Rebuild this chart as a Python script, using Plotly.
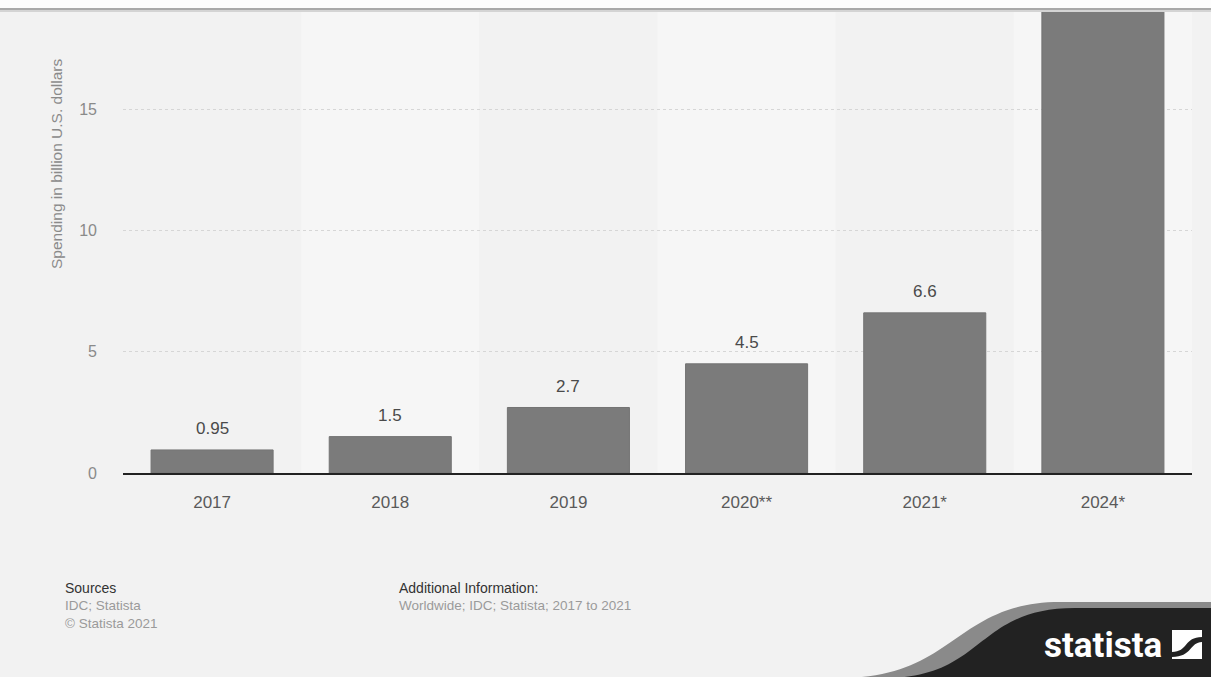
import plotly.graph_objects as go

# Data
years = ["2017", "2018", "2019", "2020**", "2021*", "2024*"]
spending = [0.95, 1.5, 2.7, 4.5, 6.6, 20.0]
value_labels = ["0.95", "1.5", "2.7", "4.5", "6.6", ""]
y_ticks = [0, 5, 10, 15]

W_PX, H_PX = 1211, 677
L, R, T, B = 123, 1192, 12, 473  # plot area in pixels


def px(x):
    return (x - L) / (R - L)


def py(y):
    return (B - y) / (B - T)


FONT = "Liberation Sans, Arial, sans-serif"

fig = go.Figure()
fig.add_trace(go.Bar(
    x=list(range(len(years))),
    y=spending,
    marker=dict(color="#7b7b7b", line=dict(color="#747474", width=1)),
    width=0.685,
    cliponaxis=True,
    hoverinfo="y",
))

annotations = []
for i, (v, lab) in enumerate(zip(spending, value_labels)):
    if lab:
        annotations.append(dict(
            x=i, y=v, xref="x", yref="y", text=lab, showarrow=False,
            yanchor="middle", yshift=21,
            font=dict(family=FONT, size=17, color="#4a4a4a"),
        ))

# Axis title placed beside the upper part of the value axis
annotations.append(dict(
    x=px(56), y=py(164), xref="paper", yref="paper",
    text="Spending in billion U.S. dollars", textangle=-90, showarrow=False,
    xanchor="center", yanchor="middle",
    font=dict(family=FONT, size=15.5, color="#8a8a8a"),
))

# Footer text
footer = [
    ("Sources", 63, 588, "#333333", 14),
    ("IDC; Statista", 63, 605, "#9a9a9a", 13.5),
    ("\u00a9 Statista 2021", 63, 623, "#9a9a9a", 13.5),
    ("Additional Information:", 397, 588, "#333333", 14),
    ("Worldwide; IDC; Statista; 2017 to 2021", 397, 605, "#9a9a9a", 13.5),
]
for text, x, y, col, size in footer:
    annotations.append(dict(
        x=px(x), y=py(y), xref="paper", yref="paper", text=text,
        showarrow=False, xanchor="left", yanchor="middle",
        font=dict(family=FONT, size=size, color=col),
    ))

# Logo wordmark
annotations.append(dict(
    x=px(1164), y=py(645), xref="paper", yref="paper", text="<b>statista</b>",
    showarrow=False, xanchor="right", yanchor="middle",
    font=dict(family="Liberation Sans Narrow, Roboto, sans-serif", size=35, color="#ffffff"),
))

shapes = []
# Alternating column bands
for i in range(len(years)):
    shapes.append(dict(
        type="rect", xref="x", yref="paper", x0=i - 0.5, x1=i + 0.5, y0=0, y1=1,
        fillcolor="#f6f6f6" if i % 2 == 1 else "#f2f2f2",
        line=dict(width=0), layer="below",
    ))

# Top strip
shapes.append(dict(type="rect", xref="paper", yref="paper",
                   x0=px(0), x1=px(W_PX), y0=py(0), y1=py(8),
                   fillcolor="#fdfdfd", line=dict(width=0), layer="above"))
shapes.append(dict(type="rect", xref="paper", yref="paper",
                   x0=px(0), x1=px(W_PX), y0=py(8), y1=py(10),
                   fillcolor="#a9a9a9", line=dict(width=0), layer="above"))
shapes.append(dict(type="rect", xref="paper", yref="paper",
                   x0=px(0), x1=px(W_PX), y0=py(10), y1=py(12),
                   fillcolor="#d4d4d4", line=dict(width=0), layer="above"))


def svg(cmds):
    out = []
    for c in cmds:
        if isinstance(c, str):
            out.append(c)
        else:
            out.append(f"{px(c[0]):.5f},{py(c[1]):.5f}")
    return " ".join(out)


# Logo swoosh
shapes.append(dict(type="path", xref="paper", yref="paper", layer="above",
                   path=svg(["M", (840, 678), "C", (955, 678), (955, 602), (1060, 602),
                             "L", (1212, 602), "L", (1212, 678), "Z"]),
                   fillcolor="#8a8a8a", line=dict(width=0)))
shapes.append(dict(type="path", xref="paper", yref="paper", layer="above",
                   path=svg(["M", (885, 678), "C", (985, 678), (975, 608), (1075, 608),
                             "L", (1212, 608), "L", (1212, 678), "Z"]),
                   fillcolor="#222222", line=dict(width=0)))
# Logo icon
shapes.append(dict(type="rect", xref="paper", yref="paper", layer="above",
                   x0=px(1172), x1=px(1202), y0=py(659), y1=py(630),
                   fillcolor="#ffffff", line=dict(width=0)))
shapes.append(dict(type="path", xref="paper", yref="paper", layer="above",
                   path=svg(["M", (1172, 652), "C", (1188, 652), (1184, 637), (1202, 637),
                             "L", (1202, 642), "C", (1190, 642), (1192, 657), (1172, 657), "Z"]),
                   fillcolor="#222222", line=dict(width=0)))
shapes.append(dict(type="path", xref="paper", yref="paper", layer="above",
                   path=svg(["M", (1172, 630), "L", (1172, 647), "C", (1184, 647), (1182, 632), (1202, 632),
                             "L", (1202, 630), "Z"]),
                   fillcolor="#ffffff", line=dict(width=0)))

fig.update_layout(
    width=W_PX, height=H_PX,
    margin=dict(l=L, r=W_PX - R, t=T, b=H_PX - B, pad=0),
    paper_bgcolor="#f2f2f2",
    plot_bgcolor="rgba(0,0,0,0)",
    showlegend=False,
    annotations=annotations,
    shapes=shapes,
    font=dict(family=FONT),
)
fig.update_xaxes(
    range=[-0.5, len(years) - 0.5],
    tickvals=list(range(len(years))),
    ticktext=years,
    showline=True, linecolor="#222222", linewidth=1.5,
    showgrid=False, zeroline=False, ticks="", ticklabelstandoff=13,
    tickfont=dict(family=FONT, size=17, color="#5a5a5a"),
    fixedrange=True,
)
fig.update_yaxes(
    range=[0, 19.0],
    tickvals=y_ticks,
    showgrid=True, gridcolor="#d6d6d6", griddash="dot", gridwidth=1,
    zeroline=False, showline=False, ticks="",
    ticklabelstandoff=25,
    tickfont=dict(family=FONT, size=16, color="#8a8a8a"),
    fixedrange=True,
)

fig.write_html("out.html")
